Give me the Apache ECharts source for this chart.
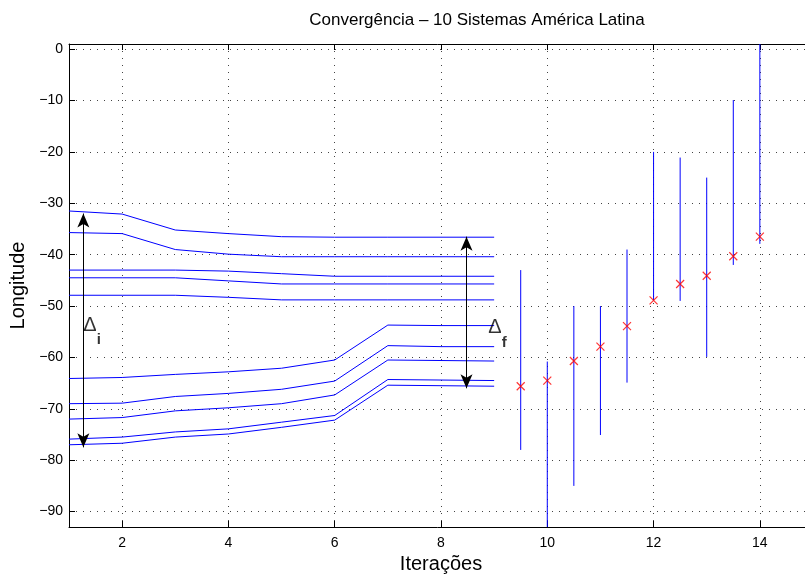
<!DOCTYPE html>
<html>
<head>
<meta charset="utf-8">
<script src="https://cdn.jsdelivr.net/npm/echarts@6/dist/echarts.min.js"></script>
<style>
  html, body { margin: 0; padding: 0; background: #fff; }
  #grafico { width: 805px; height: 577px; }
</style>
</head>
<body>
<div id="grafico"></div>
<script>
// Iterações 1..9 para as 10 trajetórias
var iteracoes = [1, 2, 3, 4, 5, 6, 7, 8, 9];

var sistema1 = [-31.5, -32.1, -35.2, -35.9, -36.5, -36.6, -36.6, -36.6, -36.6];
var sistema2 = [-35.7, -35.9, -39.0, -39.9, -40.4, -40.4, -40.4, -40.4, -40.4];
var sistema3 = [-43.0, -43.0, -43.0, -43.2, -43.7, -44.2, -44.2, -44.2, -44.2];
var sistema4 = [-44.5, -44.5, -44.5, -45.1, -45.7, -45.7, -45.7, -45.7, -45.7];
var sistema5 = [-47.9, -47.9, -47.9, -48.3, -48.8, -48.8, -48.8, -48.8, -48.8];
var sistema6 = [-64.1, -63.9, -63.3, -62.8, -62.1, -60.5, -53.7, -53.8, -53.8];
var sistema7 = [-69.0, -68.9, -67.6, -67.0, -66.2, -64.6, -57.7, -57.9, -57.9];
var sistema8 = [-72.0, -71.7, -70.4, -69.8, -69.0, -67.3, -60.5, -60.6, -60.7];
var sistema9 = [-75.9, -75.5, -74.5, -73.9, -72.6, -71.3, -64.3, -64.4, -64.5];
var sistema10 = [-77.0, -76.7, -75.5, -74.9, -73.6, -72.2, -65.4, -65.5, -65.6];

// Barras de erro (x, média, limite superior, limite inferior)
var posicoesErro = [9.5, 10, 10.5, 11, 11.5, 12, 12.5, 13, 13.5, 14];
var mediasErro = [-65.6, -64.5, -60.7, -57.9, -53.9, -48.9, -45.7, -44.1, -40.3, -36.5];
var superiorErro = [-43.0, -60.8, -50.0, -50.0, -39.0, -20.0, -21.1, -25.0, -9.9, 3];
var inferiorErro = [-78.0, -100, -85.0, -75.1, -64.9, -48.9, -49.0, -59.9, -42.0, -37.9];

// Setas Δi e Δf: [x, y da ponta superior, y da ponta inferior]
var setaInicial = [1.27, -32.0, -77.5];
var setaFinal = [8.48, -36.5, -66.0];
// Posição dos rótulos (canto superior esquerdo)
var rotuloInicial = [1.27, -51.8];
var rotuloFinal = [8.89, -52.3];

var sistemas = [sistema1, sistema2, sistema3, sistema4, sistema5,
                sistema6, sistema7, sistema8, sistema9, sistema10];

var fonte = 'Liberation Sans, Arial, Helvetica, sans-serif';

function formatarNumero(v) {
  return String(v).replace('-', '\u2212');
}

var grafico = echarts.init(document.getElementById('grafico'));

var series = sistemas.map(function (valores, i) {
  return {
    name: 'Sistema ' + (i + 1),
    type: 'line',
    data: iteracoes.map(function (x, k) { return [x, valores[k]]; }),
    symbol: 'none',
    lineStyle: { color: '#0000ff', width: 1 },
    silent: true,
    z: 3
  };
});

// Barras verticais
series.push({
  type: 'custom',
  data: posicoesErro.map(function (x, k) { return [x, superiorErro[k], inferiorErro[k]]; }),
  renderItem: function (params, api) {
    var x = api.value(0);
    var pts = echarts.graphic.clipPointsByRect([
      api.coord([x, api.value(1)]),
      api.coord([x, api.value(2)])
    ], params.coordSys);
    return {
      type: 'line',
      shape: { x1: pts[0][0], y1: pts[0][1], x2: pts[1][0], y2: pts[1][1] },
      style: { stroke: '#0000ff', lineWidth: 1 }
    };
  },
  silent: true,
  z: 3
});

// Marcadores x vermelhos
series.push({
  type: 'scatter',
  data: posicoesErro.map(function (x, k) { return [x, mediasErro[k]]; }),
  symbol: 'path://M0,0L10,10M10,0L0,10',
  symbolSize: 8,
  itemStyle: { color: '#ff0000', borderColor: '#ff0000', borderWidth: 1.2 },
  silent: true,
  z: 5
});

// Setas
series.push({
  type: 'line',
  data: [],
  markLine: {
    silent: true,
    symbol: ['arrow', 'arrow'],
    symbolSize: [9, 14],
    label: { show: false },
    lineStyle: { color: '#000', width: 1, type: 'solid' },
    data: [
      [{ coord: [setaInicial[0], setaInicial[1]] }, { coord: [setaInicial[0], setaInicial[2]] }],
      [{ coord: [setaFinal[0], setaFinal[1]] }, { coord: [setaFinal[0], setaFinal[2]] }]
    ]
  }
});

// Rótulos Δi e Δf
series.push({
  type: 'scatter',
  symbolSize: 0,
  silent: true,
  data: [
    { value: rotuloInicial, sub: 'i' },
    { value: rotuloFinal, sub: 'f' }
  ],
  label: {
    show: true,
    position: [0, 0],
    formatter: function (p) { return '{d|\u0394}{s|' + p.data.sub + '}'; },
    rich: {
      d: { fontFamily: fonte, fontSize: 20, lineHeight: 20, verticalAlign: 'top', color: '#000' },
      s: { fontFamily: fonte, fontSize: 15, fontWeight: 'bold', lineHeight: 32, verticalAlign: 'bottom', color: '#000' }
    }
  },
  z: 6
});

var eixoX = {
  type: 'value',
  min: 1,
  max: 15,
  splitNumber: 7,
  axisLine: { show: true, onZero: false, lineStyle: { color: '#000', width: 1 } },
  axisTick: { show: true, inside: true, length: 6, lineStyle: { color: '#000' } },
  splitLine: { show: true, lineStyle: { color: '#444', type: [1, 6], width: 1 } }
};

var option = {
  animation: false,
  backgroundColor: '#fff',
  textStyle: { fontFamily: fonte },
  title: {
    text: 'Converg\u00eancia \u2013 10 Sistemas Am\u00e9rica Latina',
    left: 472,
    top: 7,
    textAlign: 'center',
    textStyle: { fontFamily: fonte, fontSize: 17, fontWeight: 'normal', color: '#000' }
  },
  grid: {
    left: 69, right: -8, top: 44, bottom: 50,
    containLabel: false, outerBoundsMode: 'none'
  },
  xAxis: [
    Object.assign({}, eixoX, {
      position: 'bottom',
      name: 'Itera\u00e7\u00f5es',
      nameLocation: 'middle',
      nameGap: 26,
      nameTextStyle: { fontFamily: fonte, fontSize: 20, color: '#000' },
      axisLabel: {
        fontFamily: fonte, fontSize: 14, color: '#000', margin: 9,
        showMinLabel: false, showMaxLabel: false
      }
    }),
    Object.assign({}, eixoX, {
      position: 'top',
      axisLabel: { show: false },
      splitLine: { show: false }
    })
  ],
  yAxis: {
    type: 'value',
    min: -93,
    max: 1,
    splitNumber: 9,
    name: 'Longitude',
    nameLocation: 'middle',
    nameGap: 41,
    nameTextStyle: { fontFamily: fonte, fontSize: 20, color: '#000' },
    axisLine: { show: true, onZero: false, lineStyle: { color: '#000', width: 1 } },
    axisTick: { show: true, inside: true, length: 6, lineStyle: { color: '#000' } },
    splitLine: { show: true, lineStyle: { color: '#444', type: [1, 6], width: 1 } },
    axisLabel: {
      fontFamily: fonte, fontSize: 14, color: '#000', margin: 6,
      showMinLabel: false, showMaxLabel: false,
      formatter: formatarNumero
    }
  },
  series: series
};

grafico.setOption(option);
</script>
</body>
</html>
